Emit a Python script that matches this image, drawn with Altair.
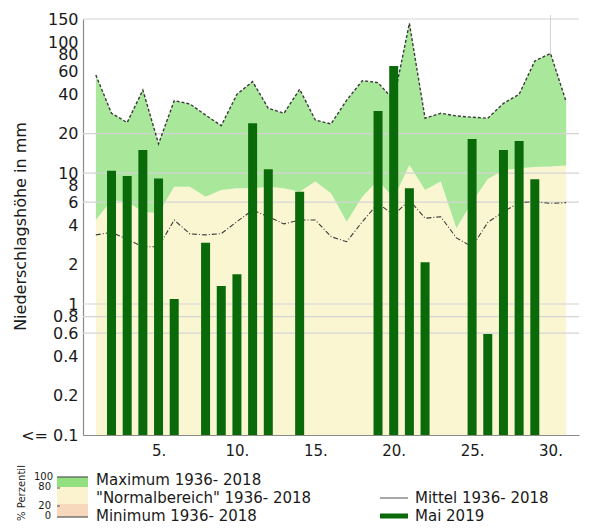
import altair as alt
import pandas as pd

# ---------------- data ----------------
days = list(range(1, 32))
mai_2019 = [None, 10.4, 9.5, 15.0, 9.1, 1.09, None, 2.94, 1.37, 1.69, 24.0, 10.7,
            None, 7.2, None, None, None, None, 29.8, 65.6, 7.65, 2.08, None, None,
            18.2, 0.59, 15.0, 17.6, 8.96, None, None]
maximum = [56, 28.6, 24.3, 43, 16.7, 35.7, 33.7, 27.7, 23.0, 39.9, 49.9, 31.2, 28.6,
           43.6, 25.4, 23.7, 36, 50.7, 49, 36, 139, 26.2, 28.6, 27.3, 26.7, 26.2, 34,
           39.9, 71.7, 82, 35]
p80 = [4.38, 6.2, 6.05, 5.07, 4.93, 7.87, 7.87, 6.6, 7.43, 7.64, 7.64, 7.87, 7.64, 7.2,
       8.6, 7.0, 4.25, 6.6, 8.85, 6.4, 11.5, 7.43, 8.6, 3.79, 6.0, 9.0, 10.5, 10.9,
       11.1, 11.2, 11.4]
mittel = [3.37, 3.53, 3.12, 2.74, 2.74, 4.38, 3.43, 3.37, 3.45, 4.25, 5.22, 4.64, 4.09,
          4.38, 4.38, 3.27, 2.99, 4.25, 5.87, 4.78, 6.2, 4.52, 4.64, 3.2, 2.74, 4.2,
          5.07, 5.94, 6.05, 5.87, 5.94]

y_ticks = [0.1, 0.2, 0.4, 0.6, 0.8, 1, 2, 4, 6, 8, 10, 20, 40, 60, 80, 100, 150]
y_grid = [0.6, 0.8, 1, 6, 10, 20, 150]
x_ticks = [5, 10, 15, 20, 25, 30]
y_floor = 0.1

legend_texts = ["Maximum 1936- 2018", "\"Normalbereich\" 1936- 2018",
                "Minimum 1936- 2018", "Mittel 1936- 2018", "Mai 2019"]
pct_labels = ["100", "80", "20", "0"]
axis_title = "Niederschlagshöhe in mm"
pct_title = "% Perzentil"

# ---------------- styles ----------------
FONT = "DejaVu Sans"
C_GREEN = "#a9e89b"
C_CREAM = "#faf6d2"
C_PEACH = "#f8d8bd"
C_BAR = "#0a6a0a"
C_LINE = "#3a3a3a"
C_GRID = "#d4d4d4"
C_TEXT = "#1a1a1a"
W, H = 496, 416

df = pd.DataFrame({"day": days, "mai": mai_2019, "max": maximum,
                   "p80": p80, "mittel": mittel})
df["floor"] = y_floor

xscale = alt.Scale(domain=[0.5, 31.5], nice=False, zero=False)
yscale = alt.Scale(type="log", domain=[0.1, 150], nice=False)

AX = alt.Axis(values=x_ticks, labelExpr="datum.value + '.'", grid=False, ticks=False,
              domainColor="#8a8a8a", domainWidth=1.2, labelFont=FONT, labelFontSize=15,
              labelColor=C_TEXT, labelPadding=8, title=None)
AY = alt.Axis(values=y_ticks,
              labelExpr="datum.value <= 0.1 ? '<= 0.1' : format(datum.value, '~g')",
              labelOverlap=False, grid=False, ticks=False, domainColor="#8a8a8a",
              domainWidth=1.2, labelFont=FONT, labelFontSize=16, labelColor=C_TEXT,
              labelPadding=5, title=axis_title, titleFont=FONT, titleFontSize=16,
              titleFontWeight="normal", titleColor=C_TEXT, titleX=-63, titleY=207,
              titleAlign="center", titleBaseline="middle", titleAngle=270)


def xe(field):
    return alt.X(field, scale=xscale, axis=AX)


def ye(field):
    return alt.Y(field, scale=yscale, axis=AY)


base = alt.Chart(df)

# vertical grid line at 30 (visible above the areas)
vgrid = alt.Chart(pd.DataFrame({"d": [30]})).mark_rule(color=C_GRID, strokeWidth=1).encode(
    x=xe("d:Q"), y=alt.value(-4), y2=alt.value(H))

cream = base.mark_area(color=C_CREAM, opacity=1).encode(
    x=xe("day:Q"), y=ye("floor:Q"), y2="p80:Q")

green = base.mark_area(color=C_GREEN, opacity=1).encode(
    x=xe("day:Q"), y=ye("p80:Q"), y2="max:Q")

hgrid = alt.Chart(pd.DataFrame({"v": y_grid})).mark_rule(color=C_GRID, strokeWidth=1.2).encode(
    y=ye("v:Q"), x=alt.value(0), x2=alt.value(W))

max_line = base.mark_line(color=C_LINE, strokeWidth=1.4, strokeDash=[3, 2]).encode(
    x=xe("day:Q"), y=ye("max:Q"))

mean_line = base.mark_line(color=C_LINE, strokeWidth=1.1, strokeDash=[5, 2, 1, 2]).encode(
    x=xe("day:Q"), y=ye("mittel:Q"))

bars = base.transform_filter("isValid(datum.mai)").mark_bar(
    color=C_BAR, width=9, opacity=1).encode(
    x=xe("day:Q"), y=ye("mai:Q"), y2=alt.Y2("floor:Q"))

# ---------------- custom legend (pixel space, below the plot) ----------------
one = pd.DataFrame({"k": [0]})
ox, oy = 83, 19  # page offset of plot origin


def px(v):
    return alt.value(v - ox)


def py(v):
    return alt.value(v - oy)


def rect(x1, x2, y1, y2, color):
    return alt.Chart(one).mark_rect(color=color).encode(
        x=px(x1), x2=px(x2), y=py(y1), y2=py(y2))


def hline(x1, x2, yv, color, w):
    return alt.Chart(one).mark_rule(color=color, strokeWidth=w).encode(
        x=px(x1), x2=px(x2), y=py(yv))


def text(s, xv, yv, size, align="left", angle=0):
    return alt.Chart(one).mark_text(
        text=s, font=FONT, fontSize=size, color=C_TEXT, align=align,
        baseline="middle", angle=angle).encode(x=px(xv), y=py(yv))


legend = [
    rect(57, 88, 477, 487, "#92e07f"),
    rect(57, 88, 487, 504, "#fbf3cf"),
    rect(57, 88, 504, 517, C_PEACH),
    hline(57, 88, 477, "#555555", 1.2),
    hline(57, 88, 517, "#555555", 1.2),
    hline(57, 60, 488, "#555555", 1),
    hline(57, 60, 506, "#555555", 1),
    text(pct_labels[0], 53, 477, 10, "right"),
    text(pct_labels[1], 51, 487, 10, "right"),
    text(pct_labels[2], 51, 506, 10, "right"),
    text(pct_labels[3], 51, 516, 10, "right"),
    text(pct_title, 22, 493, 10, "center", 270),
    text(legend_texts[0], 96, 480, 15),
    text(legend_texts[1], 96, 498, 15),
    text(legend_texts[2], 96, 516, 15),
    hline(380, 408, 498, "#777777", 1.3),
    text(legend_texts[3], 415, 498, 15),
    hline(380, 408, 516, C_BAR, 5),
    text(legend_texts[4], 415, 516, 15),
]

chart = alt.layer(vgrid, cream, green, hgrid, max_line, mean_line, bars, *legend).properties(
    width=W, height=H,
    autosize=alt.AutoSizeParams(type="none"),
    padding={"left": 75, "top": 11, "right": 21, "bottom": 89},
    background="white",
).configure_view(stroke=None)

chart.save("out.html", embed_options={"renderer": "svg", "actions": False})
